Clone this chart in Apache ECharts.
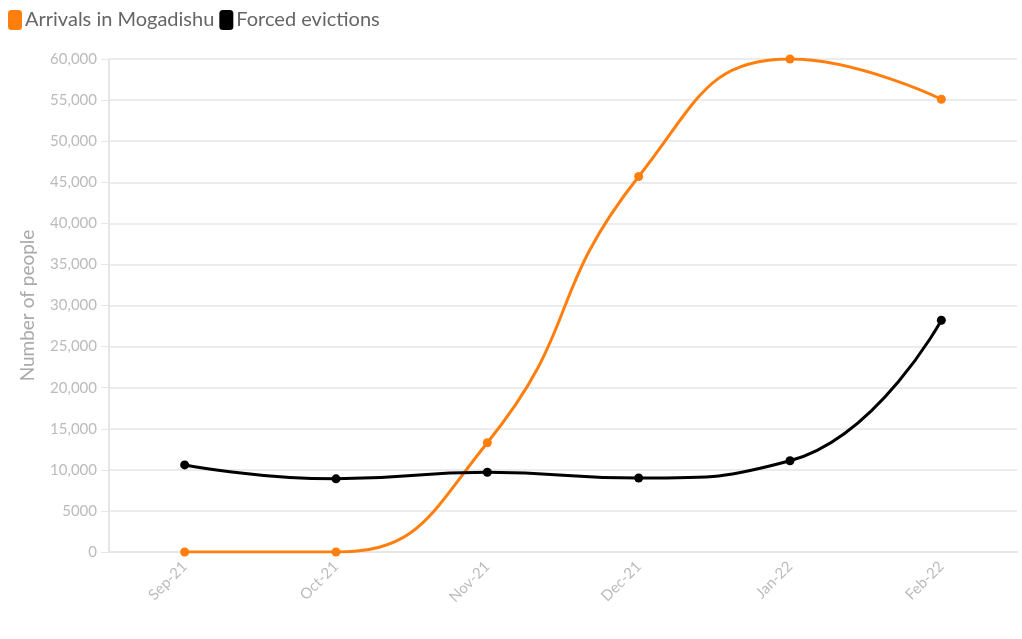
<!DOCTYPE html>
<html><head><meta charset="utf-8">
<script src="https://cdn.jsdelivr.net/npm/echarts@6/dist/echarts.min.js"></script>
<style>html,body{margin:0;padding:0;background:#fff}#c{width:1022px;height:639px}</style>
</head><body><div id="c"></div>
<script>
const categories = ['Sep-21','Oct-21','Nov-21','Dec-21','Jan-22','Feb-22'];
const arrivals = [0, 0, 13300, 45700, 60000, 55100];
const evictions = [10600, 8900, 9700, 9000, 11100, 28200];
const seriesNames = ['Arrivals in Mogadishu', 'Forced evictions'];
const yTicks = { min: 0, max: 60000, interval: 5000 };

const chart = echarts.init(document.getElementById('c'));
const font = 'Lato';
function mkSeries(name, data, color) {
  return {
    name, type: 'line', data, smooth: 0.5,
    symbol: 'circle', symbolSize: 9,
    lineStyle: { color, width: 3 },
    itemStyle: { color },
    emphasis: { disabled: true }
  };
}
chart.setOption({
  animation: false,
  textStyle: { fontFamily: font },
  legend: {
    left: 3, top: 5, itemWidth: 14, itemHeight: 20, itemGap: 5,
    icon: 'roundRect',
    textStyle: { fontSize: 20, color: '#666', fontFamily: font, padding: [0,0,0,-2] },
    data: seriesNames
  },
  grid: { left: 109, right: 5, top: 59, bottom: 87 },
  xAxis: {
    type: 'category', data: categories, boundaryGap: true,
    axisLine: { lineStyle: { color: '#e6e6e6', width: 2 } },
    axisTick: { alignWithLabel: true, length: 8, lineStyle: { color: '#e6e6e6' } },
    axisLabel: { rotate: 45, color: '#bbb', fontSize: 15, margin: 12 },
    splitLine: { show: false }
  },
  yAxis: {
    type: 'value', min: yTicks.min, max: yTicks.max, interval: yTicks.interval,
    name: 'Number of people', nameLocation: 'middle', nameGap: 72,
    nameTextStyle: { color: '#aaa', fontSize: 19 },
    axisLine: { show: true, lineStyle: { color: '#e6e6e6', width: 2 } },
    axisTick: { show: true, length: 8, lineStyle: { color: '#e6e6e6' } },
    axisLabel: { color: '#bbb', fontSize: 15, margin: 12,
      formatter: v => v === 5000 ? '5000' : v.toLocaleString('en-US') },
    splitLine: { lineStyle: { color: '#ececec', width: 2 } }
  },
  series: [
    mkSeries(seriesNames[0], arrivals, '#ff7f0e'),
    mkSeries(seriesNames[1], evictions, '#000000')
  ]
});
</script></body></html>
